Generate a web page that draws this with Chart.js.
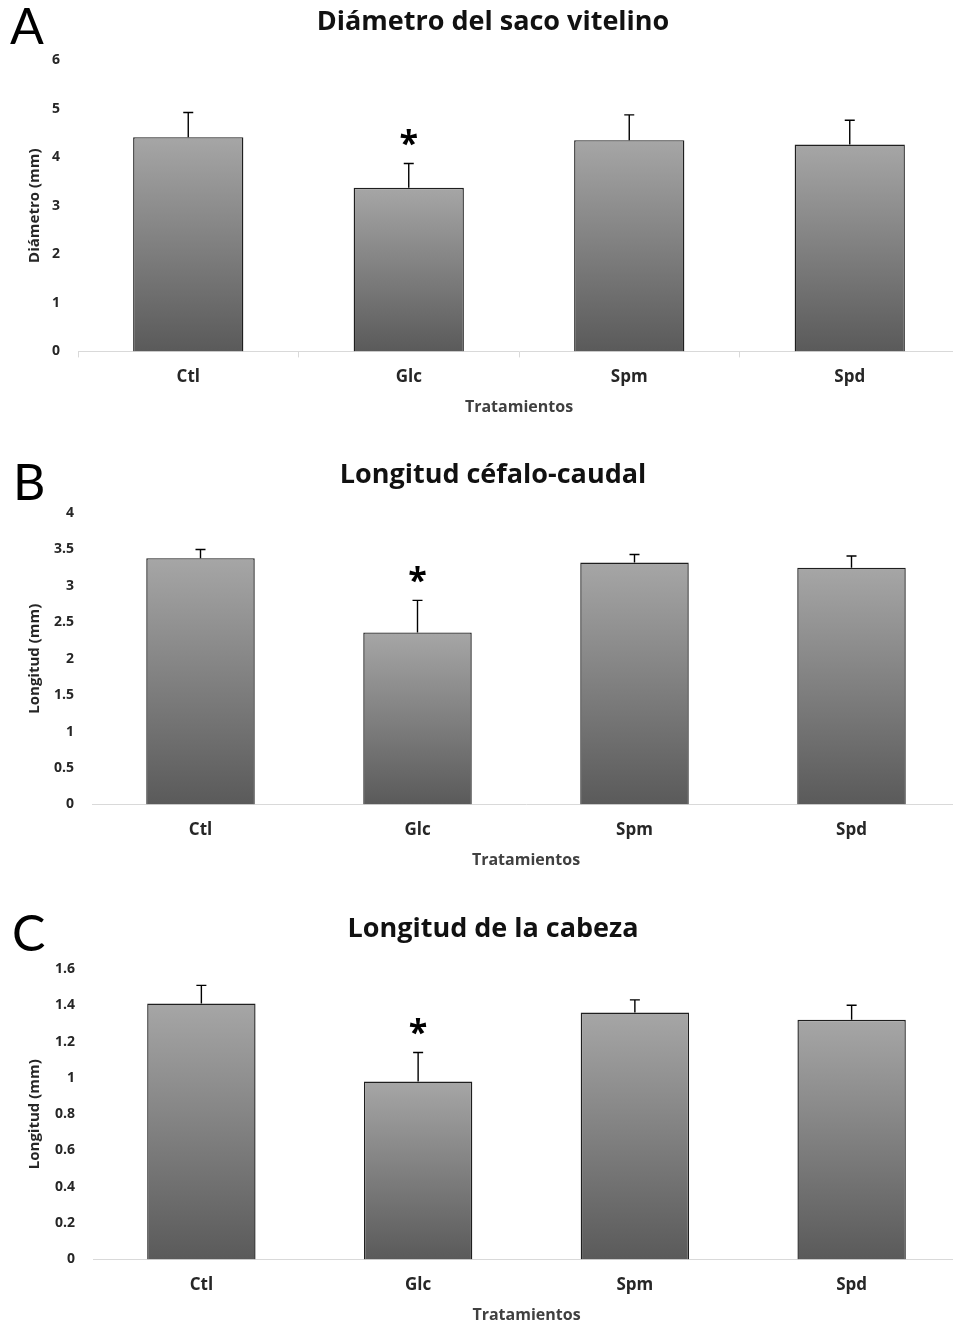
<!DOCTYPE html>
<html>
<head>
<meta charset="utf-8">
<script src="https://cdn.jsdelivr.net/npm/chart.js@4.4.0/dist/chart.umd.min.js"></script>
<style>
  html, body { margin: 0; padding: 0; background: #fff; overflow: hidden; }
  body { width: 953px; height: 1325px; position: relative; }
  .panel { position: absolute; left: 0; width: 960px; height: 425px; }
  .letter { position: absolute; font-family: Lato, sans-serif; font-size: 50px; line-height: 1; color: #000; }
</style>
</head>
<body>
<div class="panel" style="top:0"><canvas id="chartA" width="960" height="425"></canvas></div>
<div class="panel" style="top:450px"><canvas id="chartB" width="960" height="425"></canvas></div>
<div class="panel" style="top:900px"><canvas id="chartC" width="960" height="425"></canvas></div>
<div class="letter" style="left:10px;top:0px">A</div>
<div class="letter" style="left:13px;top:456px">B</div>
<div class="letter" style="left:12px;top:907px">C</div>
<script>
const categories = ['Ctl', 'Glc', 'Spm', 'Spd'];
const signif = ['', '*', '', ''];

// A - yolk sac diameter
const diametro = [4.41, 3.37, 4.35, 4.26];
const diametroErr = [0.51, 0.50, 0.52, 0.50];
const ticksA = [0, 1, 2, 3, 4, 5, 6];

// B - cephalo-caudal length
const longitud = [3.38, 2.36, 3.32, 3.25];
const longitudErr = [0.12, 0.44, 0.11, 0.16];
const ticksB = [0, 0.5, 1, 1.5, 2, 2.5, 3, 3.5, 4];

// C - head length
const cabeza = [1.41, 0.98, 1.36, 1.32];
const cabezaErr = [0.10, 0.16, 0.07, 0.08];
const ticksC = [0, 0.2, 0.4, 0.6, 0.8, 1, 1.2, 1.4, 1.6];

const FONT = '"Open Sans", sans-serif';
const TEXT = '#262626';

// error bars (upper only) and significance marks
const errorBars = {
  id: 'errorBars',
  afterDatasetsDraw(chart, args, opts) {
    const ctx = chart.ctx;
    const y = chart.scales.y;
    const meta = chart.getDatasetMeta(0);
    const vals = chart.data.datasets[0].data;
    ctx.save();
    ctx.strokeStyle = '#000';
    ctx.lineWidth = 1.4;
    meta.data.forEach((bar, i) => {
      const top = y.getPixelForValue(vals[i]);
      const hi = y.getPixelForValue(vals[i] + opts.errors[i]);
      ctx.beginPath();
      ctx.moveTo(bar.x, top);
      ctx.lineTo(bar.x, hi);
      ctx.moveTo(bar.x - 5, hi);
      ctx.lineTo(bar.x + 5, hi);
      ctx.stroke();
      if (opts.marks[i]) {
        ctx.fillStyle = '#000';
        ctx.font = 'bold 34px ' + FONT;
        ctx.textAlign = 'center';
        ctx.textBaseline = 'alphabetic';
        ctx.fillText(opts.marks[i], bar.x, hi - 8);
      }
    });
    ctx.restore();
  }
};

function barFill(context) {
  const chart = context.chart;
  if (!chart.chartArea || context.raw === undefined) return '#8c8c8c';
  const y = chart.scales.y;
  const top = y.getPixelForValue(context.raw);
  const bottom = y.getPixelForValue(0);
  const g = chart.ctx.createLinearGradient(0, top, 0, bottom);
  g.addColorStop(0, '#a6a6a6');
  g.addColorStop(1, '#5a5a5a');
  return g;
}

function makeChart(id, opt) {
  return new Chart(document.getElementById(id), {
    type: 'bar',
    data: {
      labels: categories,
      datasets: [{
        data: opt.values,
        backgroundColor: barFill,
        borderColor: '#1f1f1f',
        borderWidth: 1.4,
        barPercentage: 0.5,
        categoryPercentage: 1
      }]
    },
    options: {
      responsive: false,
      animation: false,
      layout: { padding: { left: 26, right: 0, top: 0, bottom: opt.padBottom } },
      plugins: {
        legend: { display: false },
        tooltip: { enabled: false },
        title: {
          display: true,
          text: opt.title,
          color: '#111',
          font: { family: FONT, size: 27, weight: 'bold', lineHeight: 1.2 },
          padding: { top: opt.titleTop, bottom: opt.titleBottom }
        },
        errorBars: { errors: opt.errors, marks: signif }
      },
      scales: {
        x: {
          grid: {
            display: true,
            drawOnChartArea: false,
            drawTicks: true,
            tickLength: 6,
            offset: true,
            color: opt.tickColor
          },
          border: { display: true, color: '#d9d9d9', width: 1 },
          ticks: { color: TEXT, padding: 10, font: { family: FONT, size: 17, weight: 'bold', lineHeight: 1.2 } },
          title: {
            display: true,
            text: 'Tratamientos',
            color: '#404040',
            font: { family: FONT, size: 16, weight: 'bold', lineHeight: 1.2 },
            padding: { top: 0, bottom: 0 }
          }
        },
        y: {
          min: opt.ticks[0],
          max: opt.ticks[opt.ticks.length - 1],
          afterBuildTicks: s => { s.ticks = opt.ticks.map(v => ({ value: v })); },
          afterFit: s => { s.width = opt.axisLeft - 26; },
          grid: { display: false, drawTicks: false },
          border: { display: false },
          ticks: {
            color: TEXT,
            padding: 18,
            font: { family: FONT, size: opt.tickSize, weight: 'bold' },
            callback: v => String(v)
          },
          title: {
            display: true,
            text: opt.yTitle,
            color: TEXT,
            font: { family: FONT, size: 15, weight: 'bold', lineHeight: 1.2 },
            padding: 0
          }
        }
      }
    },
    plugins: [errorBars]
  });
}

makeChart('chartA', {
  title: 'Diámetro del saco vitelino', yTitle: 'Diámetro (mm)',
  values: diametro, errors: diametroErr, ticks: ticksA,
  titleTop: 6, titleBottom: 21.6, padBottom: 8,
  axisLeft: 78, tickSize: 14, tickColor: '#d9d9d9'
});
makeChart('chartB', {
  title: 'Longitud céfalo-caudal', yTitle: 'Longitud (mm)',
  values: longitud, errors: longitudErr, ticks: ticksB,
  titleTop: 9, titleBottom: 21.6, padBottom: 5,
  axisLeft: 92, tickSize: 14, tickColor: 'rgba(0,0,0,0)'
});
makeChart('chartC', {
  title: 'Longitud de la cabeza', yTitle: 'Longitud (mm)',
  values: cabeza, errors: cabezaErr, ticks: ticksC,
  titleTop: 13, titleBottom: 23.6, padBottom: 0,
  axisLeft: 93, tickSize: 14, tickColor: 'rgba(0,0,0,0)'
});
</script>
</body>
</html>
